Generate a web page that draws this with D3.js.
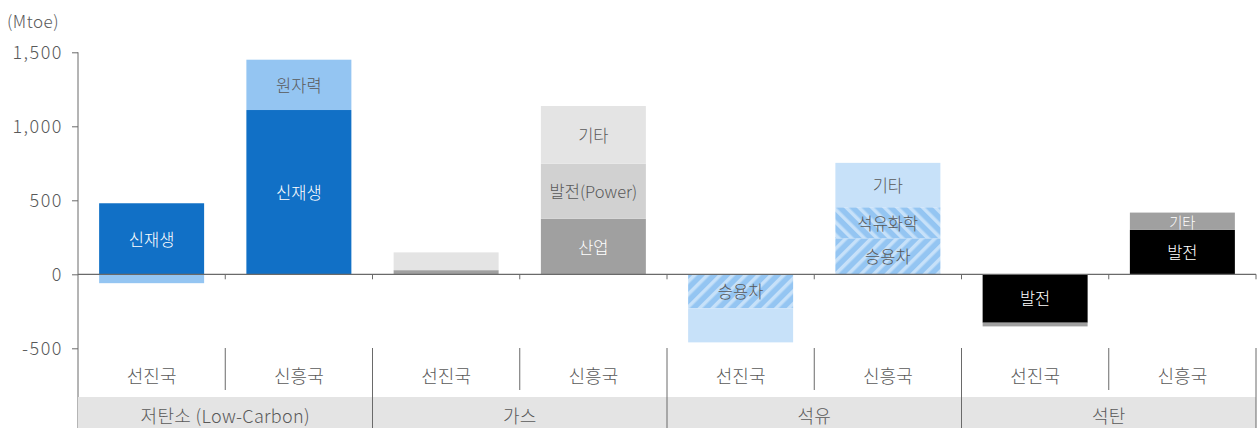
<!DOCTYPE html>
<html>
<head>
<meta charset="utf-8">
<script src="https://cdn.jsdelivr.net/npm/d3@7"></script>
<style>
  body { margin: 0; background: #fff; }
  svg { display: block; font-family: "Noto Sans CJK KR", "Noto Sans", sans-serif; font-weight: 300; }
</style>
</head>
<body>
<div class="chart"></div>
<script>
/* Global Constants
============================================= */
const SVG_WIDTH = 1260;
const SVG_HEIGHT = 428;

const TEXT_GRAY = "#595959";
const LINE_GRAY = "#6a6a6a";

/* Data
============================================= */
const regions = ["선진국", "신흥국"];
const fuels = ["저탄소 (Low-Carbon)", "가스", "석유", "석탄"];
const yTicks = [-500, 0, 500, 1000, 1500];

// one row per region, one column per key (Mtoe)
const lowCarbonKeys = ["신재생", "원자력"];
const lowCarbonValues = [[480, -60], [1110, 340]];
const lowCarbonLabels = [["신재생", ""], ["신재생", "원자력"]];

const gasKeys = ["산업", "발전", "기타"];
const gasValues = [[28, 0, 120], [375, 372, 390]];
const gasLabels = [["", "", ""], ["산업", "발전(Power)", "기타"]];

const oilKeys = ["승용차", "석유화학", "기타"];
const oilValues = [[-230, 0, -230], [243, 210, 300]];
const oilLabels = [["승용차", "", ""], ["승용차", "석유화학", "기타"]];

const coalKeys = ["발전", "기타"];
const coalValues = [[-327, -25], [300, 117]];
const coalLabels = [["발전", ""], ["발전", "기타"]];

const fuelKeys = [lowCarbonKeys, gasKeys, oilKeys, coalKeys];
const fuelValues = [lowCarbonValues, gasValues, oilValues, coalValues];
const fuelLabels = [lowCarbonLabels, gasLabels, oilLabels, coalLabels];

/* Styles
============================================= */
const fills = [
    { "신재생": "#1170c6", "원자력": "#94c5f2" },
    { "산업": "#a0a0a0", "발전": "#d1d1d1", "기타": "#e4e4e4" },
    { "승용차": "url(#hatchUp)", "석유화학": "url(#hatchDown)", "기타": "#c7e1f9" },
    { "발전": "#000000", "기타": "#a0a0a0" }
];
const labelColors = [
    { "신재생": "#ffffff", "원자력": TEXT_GRAY },
    { "산업": "#ffffff", "발전": TEXT_GRAY, "기타": TEXT_GRAY },
    { "승용차": TEXT_GRAY, "석유화학": TEXT_GRAY, "기타": TEXT_GRAY },
    { "발전": "#ffffff", "기타": "#ffffff" }
];

/* Layout
============================================= */
var plotLeft = 78,
    plotRight = 1256,
    bandTop = 397,
    regionLabelY = 375;

var svg = d3.select(".chart")
    .append("svg")
    .attr("width", SVG_WIDTH)
    .attr("height", SVG_HEIGHT);

// hatch patterns for the passenger car / petrochemical segments
var defs = svg.append("defs");
[["hatchUp", 45], ["hatchDown", -45]].forEach(function(p) {
    var pat = defs.append("pattern")
        .attr("id", p[0])
        .attr("patternUnits", "userSpaceOnUse")
        .attr("width", 9)
        .attr("height", 9)
        .attr("patternTransform", `rotate(${p[1]})`);
    pat.append("rect").attr("width", 9).attr("height", 9).attr("fill", "#94c5f2");
    pat.append("rect").attr("width", 3.5).attr("height", 9).attr("fill", "#c7e1f9");
});

var slots = [];
fuels.forEach(function(f) {
    regions.forEach(function(r) { slots.push(f + "|" + r); });
});

var slotScale = d3.scaleBand()
    .domain(slots)
    .range([plotLeft, plotRight]);

var xScale = d3.scaleBand()
    .domain(slots)
    .range([plotLeft, plotRight])
    .paddingInner(0.287)
    .paddingOuter(0.1435);

var yScale = d3.scaleLinear()
    .domain([-500, 1500])
    .range([348.3, 52.3]);

/* Bars
============================================= */
var segments = [];
fuels.forEach(function(fuel, fi) {
    var keys = fuelKeys[fi];
    var rows = regions.map(function(region, ri) {
        var row = { slot: fuel + "|" + region };
        keys.forEach(function(k, ki) { row[k] = fuelValues[fi][ri][ki]; });
        return row;
    });
    var stacked = d3.stack()
        .keys(keys)
        .offset(d3.stackOffsetDiverging)(rows);
    stacked.forEach(function(series, ki) {
        series.forEach(function(d, ri) {
            if (d[0] === d[1]) return;
            segments.push({
                slot: d.data.slot,
                y0: d[0],
                y1: d[1],
                fill: fills[fi][series.key],
                label: fuelLabels[fi][ri][ki],
                labelColor: labelColors[fi][series.key]
            });
        });
    });
});

var barGroup = svg.append("g");

barGroup.selectAll("rect")
    .data(segments)
    .enter()
    .append("rect")
    .attr("x", function(d) { return xScale(d.slot); })
    .attr("width", xScale.bandwidth())
    .attr("y", function(d) { return yScale(Math.max(d.y0, d.y1)); })
    .attr("height", function(d) { return Math.abs(yScale(d.y0) - yScale(d.y1)); })
    .attr("fill", function(d) { return d.fill; });

barGroup.selectAll("text")
    .data(segments.filter(function(d) { return d.label; }))
    .enter()
    .append("text")
    .attr("x", function(d) { return xScale(d.slot) + xScale.bandwidth() / 2; })
    .attr("y", function(d) { return (yScale(d.y0) + yScale(d.y1)) / 2; })
    .attr("text-anchor", "middle")
    .attr("dominant-baseline", "central")
    .attr("fill", function(d) { return d.labelColor; })
    .style("font-size", function(d) {
        var h = Math.abs(yScale(d.y0) - yScale(d.y1));
        return Math.min(16.5, h - 3) + "px";
    })
    .text(function(d) { return d.label; });

/* Axes
============================================= */
var commaFormat = d3.format(",");

var leftAxis = d3.axisLeft(yScale)
    .tickValues(yTicks)
    .tickSize(6)
    .tickPadding(9)
    .tickFormat(function(d) { return commaFormat(d).replace("\u2212", "-"); });

var yAxis = svg.append("g")
    .attr("transform", `translate(${plotLeft}, 0)`)
    .call(leftAxis);

yAxis.select(".domain").remove();
yAxis.selectAll("line").attr("stroke", LINE_GRAY);
yAxis.selectAll("text")
    .attr("fill", TEXT_GRAY)
    .style("font-size", "18px")
    .style("letter-spacing", "1.5px")
    .style("font-family", "'Noto Sans CJK KR', 'Noto Sans', sans-serif")
    .style("font-weight", 300);

svg.append("line")
    .attr("x1", plotLeft).attr("x2", plotLeft)
    .attr("y1", yScale(1500)).attr("y2", SVG_HEIGHT)
    .attr("stroke", LINE_GRAY);

svg.append("text")
    .attr("x", 7)
    .attr("y", 20)
    .attr("dominant-baseline", "central")
    .attr("fill", TEXT_GRAY)
    .style("font-size", "17px")
    .style("letter-spacing", "0.5px")
    .text("(Mtoe)");

// zero line with slot ticks
svg.append("line")
    .attr("x1", plotLeft).attr("x2", plotRight)
    .attr("y1", yScale(0)).attr("y2", yScale(0))
    .attr("stroke", LINE_GRAY)
    .attr("stroke-width", 1.2);

svg.append("g")
    .selectAll("line")
    .data(slots.slice(1).concat(["end"]))
    .enter()
    .append("line")
    .attr("x1", function(d) { return d === "end" ? plotRight : slotScale(d); })
    .attr("x2", function(d) { return d === "end" ? plotRight : slotScale(d); })
    .attr("y1", yScale(0))
    .attr("y2", yScale(0) + 5)
    .attr("stroke", LINE_GRAY);

/* Category labels
============================================= */
var catGroup = svg.append("g");

catGroup.append("rect")
    .attr("x", plotLeft)
    .attr("y", bandTop)
    .attr("width", plotRight - plotLeft)
    .attr("height", SVG_HEIGHT - bandTop)
    .attr("fill", "#e4e4e4");

catGroup.selectAll(".region-label")
    .data(slots)
    .enter()
    .append("text")
    .attr("class", "region-label")
    .attr("x", function(d) { return slotScale(d) + slotScale.bandwidth() / 2; })
    .attr("y", regionLabelY)
    .attr("text-anchor", "middle")
    .attr("dominant-baseline", "central")
    .attr("fill", TEXT_GRAY)
    .style("font-size", "18px")
    .text(function(d) { return d.split("|")[1]; });

catGroup.selectAll(".fuel-label")
    .data(fuels)
    .enter()
    .append("text")
    .attr("class", "fuel-label")
    .attr("x", function(d) {
        return slotScale(d + "|" + regions[0]) + slotScale.bandwidth();
    })
    .attr("y", 415)
    .attr("text-anchor", "middle")
    .attr("dominant-baseline", "central")
    .attr("fill", TEXT_GRAY)
    .style("font-size", "18px")
    .style("letter-spacing", "0.3px")
    .text(function(d) { return d; });

// dividers: short ones between regions, long ones between fuels
catGroup.selectAll(".divider")
    .data(slots.slice(1).concat(["end"]))
    .enter()
    .append("line")
    .attr("class", "divider")
    .attr("x1", function(d) { return d === "end" ? plotRight : slotScale(d); })
    .attr("x2", function(d) { return d === "end" ? plotRight : slotScale(d); })
    .attr("y1", 348)
    .attr("y2", function(d) {
        return (d === "end" || d.split("|")[1] === regions[0]) ? SVG_HEIGHT : 390;
    })
    .attr("stroke", LINE_GRAY);
</script>
</body>
</html>
